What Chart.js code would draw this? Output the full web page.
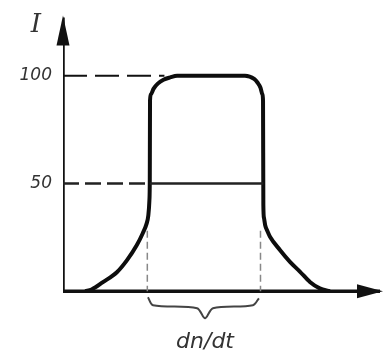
<!DOCTYPE html>
<html>
<head>
<meta charset="utf-8">
<script src="https://cdn.jsdelivr.net/npm/chart.js@4"></script>
<style>
  html, body { margin: 0; padding: 0; background: #fff; }
  #wrap { width: 384px; height: 360px; }
</style>
</head>
<body>
<div id="wrap"><canvas id="chart"></canvas></div>
<script>
// pulse shape (x in % of axis length, y in %)
const curveX = [7, 9, 12.6, 17, 20.2, 23.3, 25.2, 26.3, 26.9, 27.25, 27.38, 27.45, 27.7, 28.6, 29.9, 31.7, 33.8, 36, 47, 57.4, 60.3, 61.4, 62.3, 62.9, 63.1, 63.2, 63.4, 63.8, 64.5, 65.3, 68.5, 71.6, 74.8, 77.9, 81, 84.2];
const curveY = [0, 0.8, 4.2, 8.8, 14.4, 21.4, 27, 31, 35, 42, 52, 88.4, 91.3, 94, 96.3, 98.1, 99.2, 100, 100, 100, 98.5, 96.7, 94.4, 91.3, 88.4, 40, 34, 30.5, 27.8, 25.3, 19, 13.6, 9, 4.3, 1.3, 0];
const yTicks = [50, 100];
const levelHigh = 100;
const levelHalf = 50;
const pulseEdges = [26.6, 62.3];
const pulseWalls = [27.4, 63.2];
const edgeFoot = 28;
const braceX = [26.8, 28.4, 42.3, 44.8, 47.3, 59.9, 61.8];
const braceY = [-2.8, -6.5, -7.9, -12.6, -7.9, -6.5, -3.3];
const yAxisTop = 127;
const xAxisEnd = 100;
const yLabel = 'I';
const xLabel = 'dn/dt';

const pts = (xs, ys) => xs.map((x, i) => ({ x: x, y: ys[i] }));

function line(data, opts) {
    return Object.assign({
        data: data,
        showLine: true,
        pointRadius: 0,
        borderColor: '#111',
        borderWidth: 2,
        fill: false,
    }, opts);
}

const arrowsAndText = {
    id: 'arrowsAndText',
    afterDatasetsDraw(chart) {
        const ctx = chart.ctx;
        const x = chart.scales.x, y = chart.scales.y;
        const x0 = x.getPixelForValue(0);
        const y0 = y.getPixelForValue(0);
        const top = y.getPixelForValue(yAxisTop) - 2;
        const right = x.getPixelForValue(xAxisEnd) + 3;
        ctx.save();
        ctx.fillStyle = '#111';
        ctx.beginPath();
        ctx.moveTo(x0, top);
        ctx.lineTo(x0 - 6.5, top + 30);
        ctx.lineTo(x0 + 6.5, top + 30);
        ctx.closePath();
        ctx.fill();
        ctx.beginPath();
        ctx.moveTo(right, y0);
        ctx.lineTo(right - 26, y0 - 7);
        ctx.lineTo(right - 26, y0 + 7);
        ctx.closePath();
        ctx.fill();

        ctx.fillStyle = '#333';
        ctx.font = 'italic 26px "DejaVu Serif"';
        ctx.textAlign = 'center';
        ctx.textBaseline = 'middle';
        ctx.fillText(yLabel, x0 - 27, top + 10);
        ctx.font = 'italic 22px "DejaVu Sans"';
        ctx.fillText(xLabel, x.getPixelForValue(44.8), y.getPixelForValue(-23.7));
        ctx.restore();
    }
};

new Chart(document.getElementById('chart').getContext('2d'), {
    type: 'scatter',
    data: {
        datasets: [
            line(pts([0, 32], [levelHigh, levelHigh]), { borderDash: [24, 8], borderWidth: 2 }),
            line(pts([0, pulseWalls[0]], [levelHalf, levelHalf]), { borderDash: [16, 6], borderWidth: 2.5, borderColor: '#222' }),
            line(pts(pulseWalls, [levelHalf, levelHalf]), { borderWidth: 2.5, borderColor: '#222' }),
            line(pts([pulseEdges[0], pulseEdges[0]], [edgeFoot, 0]), { borderDash: [7, 4], borderWidth: 1.5, borderColor: '#888' }),
            line(pts([pulseEdges[1], pulseEdges[1]], [edgeFoot, 0]), { borderDash: [7, 4], borderWidth: 1.5, borderColor: '#888' }),
            line(pts(braceX, braceY), { borderWidth: 2, borderColor: '#444', tension: 0.3 }),
            line(pts([0, 0], [0, yAxisTop]), { borderWidth: 3.5 }),
            line(pts([0, xAxisEnd], [0, 0]), { borderWidth: 3.5 }),
            line(pts(curveX, curveY), { borderWidth: 4, borderColor: '#0d0d0d', cubicInterpolationMode: 'monotone' }),
        ]
    },
    options: {
        responsive: true,
        maintainAspectRatio: false,
        animation: false,
        layout: { padding: { left: 0, right: 4, top: 11, bottom: 2 } },
        plugins: { legend: { display: false }, tooltip: { enabled: false } },
        scales: {
            x: { type: 'linear', min: 0, max: 100, display: false },
            y: {
                type: 'linear', min: -31, max: 130,
                grid: { display: false, drawTicks: false },
                border: { display: false },
                afterFit(scale) {
                    scale.width = 63;
                    scale.paddingTop = 0;
                    scale.paddingBottom = 0;
                },
                afterBuildTicks(scale) { scale.ticks = yTicks.map(v => ({ value: v })); },
                ticks: {
                    padding: 11,
                    color: '#333',
                    font: { family: 'DejaVu Sans', style: 'italic', size: 17 },
                }
            }
        }
    },
    plugins: [arrowsAndText]
});
</script>
</body>
</html>
